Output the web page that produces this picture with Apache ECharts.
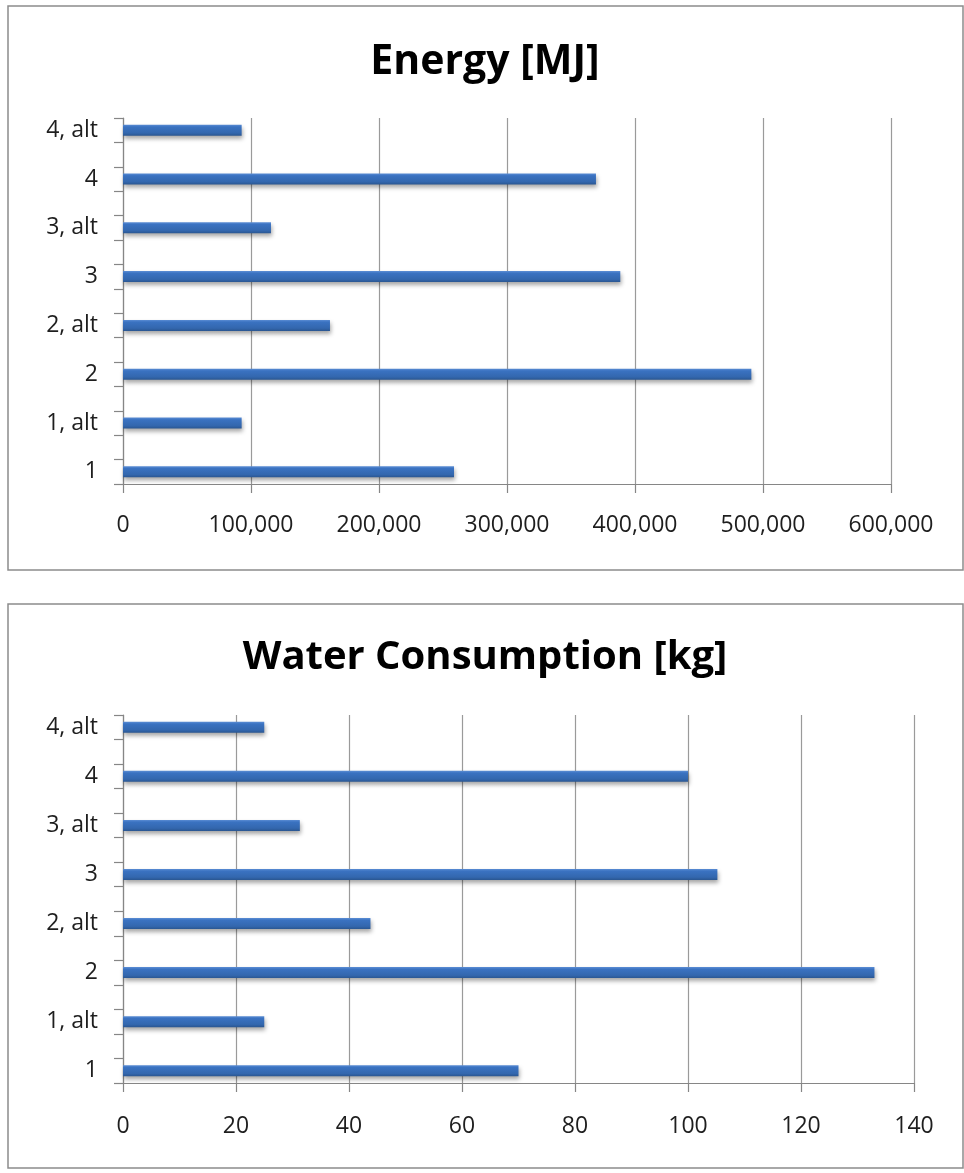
<!DOCTYPE html>
<html>
<head>
<meta charset="utf-8">
<script src="https://cdn.jsdelivr.net/npm/echarts@6/dist/echarts.min.js"></script>
<style>
  html, body { margin: 0; padding: 0; background: #ffffff; }
  #chart { width: 964px; height: 1173px; }
</style>
</head>
<body>
<div id="chart"></div>
<script>
// Scenario labels, bottom to top
const scenarios = ['1', '1, alt', '2', '2, alt', '3', '3, alt', '4', '4, alt'];

// Energy use per scenario [MJ]
const energyValues = [258600, 92700, 490900, 161700, 388500, 115600, 369500, 92700];

// Water consumption per scenario [kg]
const waterValues = [70, 25, 133, 43.8, 105.2, 31.3, 100, 25];

// Value-axis ticks
const energyTicks = [0, 100000, 200000, 300000, 400000, 500000, 600000];
const waterTicks = [0, 20, 40, 60, 80, 100, 120, 140];

const titles = ['Energy [MJ]', 'Water Consumption [kg]'];

// Each scenario sits in its own slot with an empty slot between neighbours
function spaced(list, blank) {
  const out = [];
  list.forEach((v, i) => {
    if (i > 0) out.push(blank);
    out.push(v);
  });
  return out;
}

const FONT = '"Open Sans", "DejaVu Sans", sans-serif';
const GRID_COLOR = '#9a9a9a';
const AXIS_COLOR = '#868686';

const barColor = new echarts.graphic.LinearGradient(0, 0, 0, 1, [
  { offset: 0, color: '#5b8dd4' },
  { offset: 0.2, color: '#3a72c1' },
  { offset: 0.75, color: '#3367ae' },
  { offset: 1, color: '#2a5691' }
]);

function valueAxis(gridIndex, ticks, margin, fmt) {
  return {
    type: 'value',
    gridIndex: gridIndex,
    min: ticks[0],
    max: ticks[ticks.length - 1],
    interval: ticks[1] - ticks[0],
    axisLine: { show: true, lineStyle: { color: AXIS_COLOR, width: 1.2 } },
    axisTick: { show: true, length: 9, lineStyle: { color: AXIS_COLOR, width: 1.2 } },
    splitLine: { show: true, lineStyle: { color: GRID_COLOR, width: 1.2 } },
    axisLabel: {
      margin: margin,
      fontFamily: FONT,
      fontSize: 23,
      color: '#1e1e1e',
      formatter: fmt
    }
  };
}

function categoryAxis(gridIndex) {
  return {
    type: 'category',
    gridIndex: gridIndex,
    data: spaced(scenarios, ''),
    boundaryGap: true,
    axisLine: { show: true, lineStyle: { color: AXIS_COLOR, width: 1.2 } },
    axisTick: { show: true, interval: 0, length: 9, alignWithLabel: false,
                lineStyle: { color: AXIS_COLOR, width: 1.2 } },
    splitLine: { show: false },
    axisLabel: {
      interval: 0,
      margin: 25,
      fontFamily: FONT,
      fontSize: 23,
      color: '#1e1e1e'
    }
  };
}

function barSeries(index, values) {
  return {
    type: 'bar',
    xAxisIndex: index,
    yAxisIndex: index,
    data: spaced(values, '-'),
    barWidth: 11,
    silent: true,
    itemStyle: {
      color: barColor,
      shadowColor: 'rgba(0, 0, 0, 0.35)',
      shadowBlur: 4,
      shadowOffsetX: 1,
      shadowOffsetY: 3
    }
  };
}

const chart = echarts.init(document.getElementById('chart'), null, { renderer: 'canvas' });

chart.setOption({
  backgroundColor: '#ffffff',
  animation: false,
  grid: [
    { left: 123, top: 118, width: 768, height: 366 },
    { left: 123, top: 715, width: 791, height: 368 }
  ],
  xAxis: [
    valueAxis(0, energyTicks, 30, v => v.toLocaleString('en-US')),
    valueAxis(1, waterTicks, 32, v => String(v))
  ],
  yAxis: [categoryAxis(0), categoryAxis(1)],
  series: [barSeries(0, energyValues), barSeries(1, waterValues)],
  graphic: [
    {
      type: 'rect', silent: true,
      shape: { x: 8, y: 6, width: 955, height: 564 },
      style: { fill: 'none', stroke: '#8c8c8c', lineWidth: 1.5 }
    },
    {
      type: 'rect', silent: true,
      shape: { x: 8, y: 604, width: 955, height: 564 },
      style: { fill: 'none', stroke: '#8c8c8c', lineWidth: 1.5 }
    },
    {
      type: 'text', silent: true, x: 485, y: 62,
      style: {
        text: titles[0], fontFamily: FONT, fontWeight: 'bold', fontSize: 41,
        fill: '#000000', align: 'center', verticalAlign: 'middle'
      }
    },
    {
      type: 'text', silent: true, x: 485, y: 658,
      style: {
        text: titles[1], fontFamily: FONT, fontWeight: 'bold', fontSize: 40,
        fill: '#000000', align: 'center', verticalAlign: 'middle'
      }
    }
  ]
});
</script>
</body>
</html>
